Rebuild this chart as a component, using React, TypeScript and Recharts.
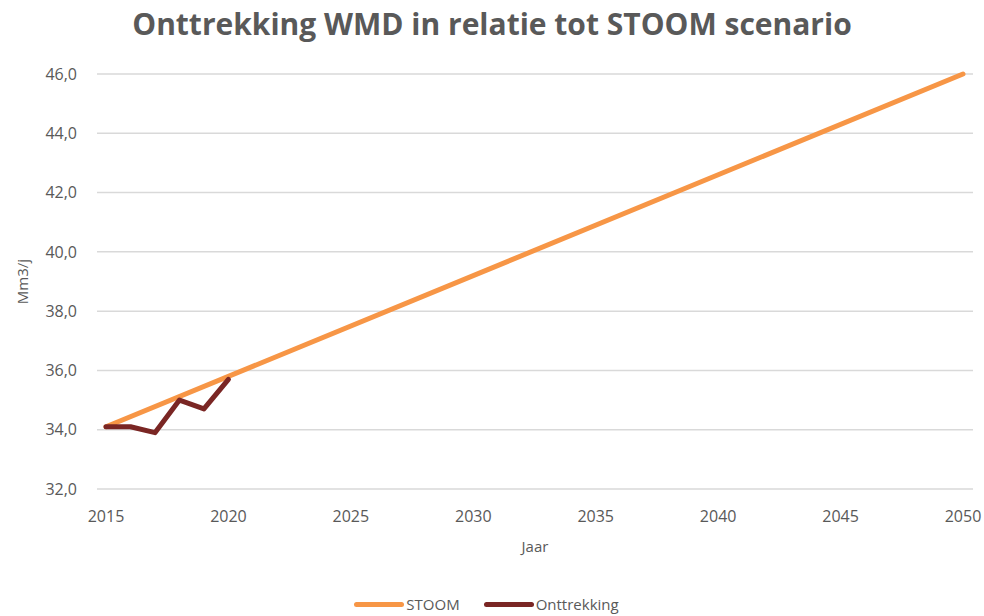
import React from 'react';
import { LineChart, Line, XAxis, YAxis, CartesianGrid, Legend, Label } from 'recharts';

const jaren = [2015, 2016, 2017, 2018, 2019, 2020, 2050];
const stoom = [34.1, null, null, null, null, null, 46.0];
const onttrekking = [34.1, 34.1, 33.9, 35.0, 34.7, 35.7, null];
const xTicks = [2015, 2020, 2025, 2030, 2035, 2040, 2045, 2050];
const yTicks = [32, 34, 36, 38, 40, 42, 44, 46];

const data = jaren.map((jaar, i) => ({ jaar, STOOM: stoom[i], Onttrekking: onttrekking[i] }));

const GRAY = '#595959';
const ORANGE = '#F79646';
const DARKRED = '#7A2624';
const FONT = '"Open Sans", sans-serif';

const legendItems = [
  { name: 'STOOM', color: ORANGE },
  { name: 'Onttrekking', color: DARKRED },
];

const CustomLegend = () => (
  <div style={{ display: 'flex', justifyContent: 'center', gap: 24, fontFamily: FONT, fontSize: 15, color: GRAY }}>
    {legendItems.map((it) => (
      <div key={it.name} style={{ display: 'flex', alignItems: 'center' }}>
        <div style={{ width: 50, height: 5, borderRadius: 3, background: it.color, marginRight: 2 }} />
        <span>{it.name}</span>
      </div>
    ))}
  </div>
);

const fmt = (v: number) => v.toFixed(1).replace('.', ',');

export default function App() {
  return (
    <div style={{ position: 'absolute', left: 0, top: 0, width: 984, height: 616, background: '#fff' }}>
      <div
        style={{
          position: 'absolute',
          top: 3,
          left: 0,
          width: 984,
          textAlign: 'center',
          fontFamily: FONT,
          fontWeight: 700,
          fontSize: 30,
          color: GRAY,
        }}
      >
        Onttrekking WMD in relatie tot STOOM scenario
      </div>
      <LineChart width={984} height={616} data={data} margin={{ top: 74, right: 11, bottom: 0, left: 0 }}>
        <CartesianGrid vertical={false} stroke="#D9D9D9" strokeWidth={1.5} />
        <XAxis
          dataKey="jaar"
          type="number"
          domain={[2015, 2050]}
          ticks={xTicks}
          padding={{ left: 9, right: 10 }}
          axisLine={false}
          tickLine={false}
          tickMargin={16}
          height={107}
          tick={{ fill: GRAY, fontSize: 16, fontFamily: FONT }}
        >
          <Label value="Jaar" position="center" dy={4} fill={GRAY} fontSize={15} fontFamily={FONT} />
        </XAxis>
        <YAxis
          domain={[32, 46]}
          ticks={yTicks}
          width={97}
          axisLine={false}
          tickLine={false}
          tickMargin={14}
          tickFormatter={fmt}
          tick={{ fill: GRAY, fontSize: 16, fontFamily: FONT }}
        >
          <Label value="Mm3/j" angle={-90} position="center" dx={-26} fill={GRAY} fontSize={15} fontFamily={FONT} />
        </YAxis>
        <Legend verticalAlign="bottom" content={CustomLegend} wrapperStyle={{ bottom: 2 }} />
        <Line
          dataKey="STOOM"
          stroke={ORANGE}
          strokeWidth={5}
          dot={false}
          connectNulls
          isAnimationActive={false}
          strokeLinecap="round"
        />
        <Line
          dataKey="Onttrekking"
          stroke={DARKRED}
          strokeWidth={5}
          dot={false}
          isAnimationActive={false}
          strokeLinecap="round"
          strokeLinejoin="round"
        />
      </LineChart>
    </div>
  );
}
